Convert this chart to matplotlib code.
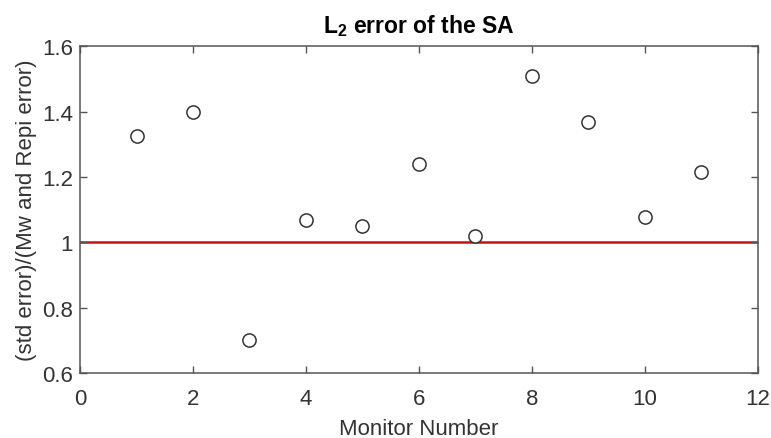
import numpy as np
import matplotlib
matplotlib.use('Agg')
import matplotlib.pyplot as plt

plt.rcParams['font.family'] = ['Liberation Sans', 'DejaVu Sans']
plt.rcParams['mathtext.fontset'] = 'custom'
plt.rcParams['mathtext.rm'] = 'Liberation Sans'
plt.rcParams['mathtext.bf'] = 'Liberation Sans:bold'

# data
monitor = [1, 2, 3, 4, 5, 6, 7, 8, 9, 10, 11]
ratio = [1.327, 1.40, 0.70, 1.069, 1.049, 1.24, 1.02, 1.508, 1.368, 1.078, 1.215]
ref_level = 1.0
xticks = [0, 2, 4, 6, 8, 10, 12]
yticks = [0.6, 0.8, 1.0, 1.2, 1.4, 1.6]
yticklabels = ['0.6', '0.8', '1', '1.2', '1.4', '1.6']

axcol = '#555555'
txtcol = '#333333'

fig = plt.figure(figsize=(7.71, 4.39), dpi=100)
ax = fig.add_axes([0.1038, 0.148, 0.879, 0.744])

ax.axhline(ref_level, color='#cc1010', lw=1.8, zorder=1)
ax.plot(monitor, ratio, 'o', mfc='white', mec='#333333', ms=9.5, mew=1.1, zorder=2)

ax.set_xlim(0, 12)
ax.set_ylim(0.6, 1.6)
ax.set_xticks(xticks)
ax.set_yticks(yticks)
ax.set_yticklabels(yticklabels)

ax.tick_params(direction='in', length=5, width=1, colors=axcol, labelcolor=txtcol,
               labelsize=16, top=True, right=True)
ax.tick_params(axis='x', pad=11)
ax.tick_params(axis='y', pad=5)
for s in ax.spines.values():
    s.set_color(axcol)
    s.set_linewidth(1.1)

ax.set_xlabel('Monitor Number', fontsize=16, color=txtcol, labelpad=6)
ax.set_ylabel('(std error)/(Mw and Repi error)', fontsize=16, color=txtcol, labelpad=4)
ax.set_title(r'$\mathbf{L_2}$ error of the SA', fontsize=16.5, fontweight='bold', pad=10)

fig.savefig('out.png', dpi=100)
